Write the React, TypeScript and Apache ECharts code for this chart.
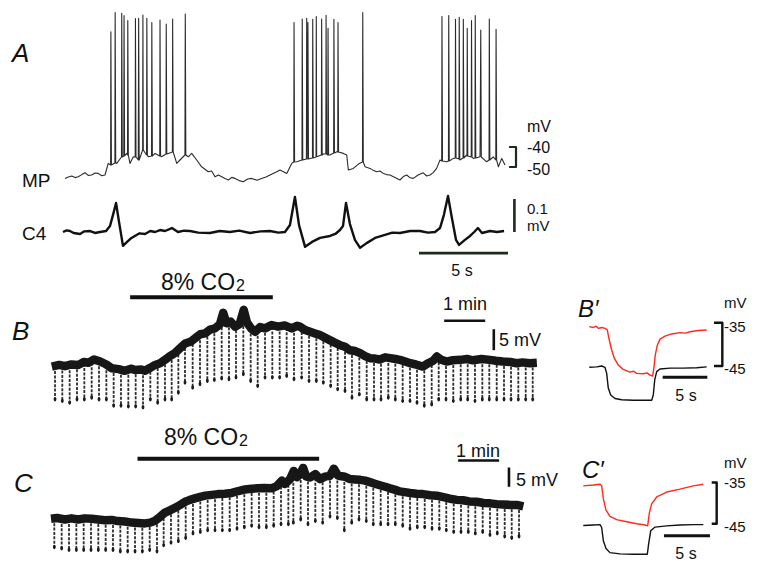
import React, { useEffect, useRef } from 'react';
import * as echarts from 'echarts';

const FONT = "'Liberation Sans', Arial, Helvetica, sans-serif";

// ---------- Panel A (time in s) ----------
// membrane potential (mV) between spikes
const mpTrace: number[][] = [
  [0.11, -55.7], [0.3, -55.0], [0.49, -54.5], [0.68, -55.3], [0.86, -54.9], [1.05, -53.8], [1.24, -52.9], [1.42, -54.2],
  [1.61, -54.0], [1.8, -53.0], [1.98, -53.2], [2.17, -54.4], [2.36, -54.0], [2.54, -48.2], [2.74, -49.0], [3.02, -48.2],
  [3.3, -44.9], [3.58, -43.2], [3.76, -48.2], [3.95, -44.9], [4.23, -46.5], [4.51, -41.5], [4.79, -44.9], [5.17, -43.2],
  [5.54, -44.9], [5.92, -43.2], [6.2, -42.4], [6.39, -48.2], [6.57, -46.5], [6.85, -44.0], [7.04, -44.9], [7.23, -43.2],
  [7.51, -46.5], [7.79, -49.9], [8.16, -52.4], [8.35, -52.0], [8.54, -54.9], [8.73, -54.0], [8.92, -54.9], [9.1, -55.8],
  [9.29, -56.5], [9.48, -55.2], [9.66, -55.7], [9.9, -56.8], [10.13, -57.4], [10.37, -56.0], [10.6, -55.7], [10.9, -56.6],
  [11.16, -55.7], [11.4, -55.0], [11.63, -54.0], [12.01, -52.4], [12.19, -51.5], [12.57, -53.2], [12.85, -48.2],
  [13.13, -47.4], [13.5, -46.5], [13.88, -45.7], [14.25, -44.9], [14.62, -43.5], [15.0, -44.0], [15.38, -42.4],
  [15.75, -43.2], [15.94, -44.0], [16.03, -51.5], [16.31, -50.7], [16.65, -48.2], [16.97, -49.9], [17.25, -50.7],
  [17.45, -51.8], [17.62, -52.4], [17.8, -52.0], [17.99, -53.2], [18.18, -53.8], [18.37, -54.0], [18.65, -55.2],
  [18.93, -56.5], [19.12, -54.8], [19.31, -54.0], [19.5, -55.4], [19.68, -55.7], [19.95, -54.0], [20.24, -52.9],
  [20.43, -54.5], [20.62, -54.0], [20.8, -52.8], [20.99, -50.7], [21.18, -46.5], [21.56, -47.4], [21.93, -45.7],
  [22.3, -46.5], [22.68, -44.0], [23.05, -45.7], [23.43, -44.9], [23.8, -47.4], [24.17, -44.9], [24.46, -49.9],
  [24.65, -45.7], [24.83, -49.0]
];
// action potentials: [time, take-off mV, peak mV]
const mpSpikes: number[][] = [
  [2.69, -49, 17.6], [2.93, -48, 27.2], [3.3, -45, 26.9], [3.43, -44.5, 25.7], [3.64, -44, 23.2], [4.07, -45, 24.2],
  [4.25, -46.5, 24.4], [4.49, -41.5, 26.0], [4.71, -44, 24.4], [4.99, -44.5, 22.2], [5.45, -44.5, 23.5],
  [5.8, -43.5, 21.5], [6.16, -42.5, 24.0], [6.87, -44, 26.5],
  [12.98, -47.5, 22.2], [13.44, -46.5, 24.0], [13.69, -46, 24.4], [13.76, -46, 22.2], [14.03, -45.5, 23.9],
  [14.23, -45, 25.2], [14.53, -44, 24.0], [14.78, -43.5, 25.9], [14.89, -44, 19.4], [15.22, -43, 23.9],
  [15.45, -42.5, 22.2],
  [16.84, -47.5, 27.2],
  [21.29, -47, 25.2], [21.67, -47, 25.7], [22.05, -45.5, 23.9], [22.26, -46, 24.9], [22.49, -45.5, 23.9],
  [22.71, -44.5, 19.4], [22.95, -45, 23.2], [23.16, -45.5, 25.7], [23.47, -45, 18.5], [23.95, -46.5, 24.0],
  [24.33, -46.5, 18.9]
];
// C4 nerve activity (µV)
const c4Trace: number[][] = [
  [0, 0], [0.2, 5], [0.39, 3], [0.6, -3], [0.96, -6], [1.2, 2], [1.52, 3], [1.8, -3], [2.08, 0], [2.42, 3], [2.64, 18],
  [2.81, 52], [2.98, 88], [3.15, 30], [3.37, -42], [3.6, -30], [3.8, -20], [4.04, -12], [4.3, -4], [4.61, -6],
  [4.9, 3], [5.17, 0], [5.45, 6], [5.73, 3], [6.12, 12], [6.46, 0], [6.8, 4], [7.13, 3], [7.6, -2], [8.26, -3],
  [8.8, 3], [9.38, 0], [9.9, 4], [10.51, -3], [11.1, 2], [11.63, 3], [12.1, -2], [12.47, 0], [12.75, 21],
  [13.03, 106], [13.26, 21], [13.6, -45], [13.99, -30], [14.44, -18], [15.0, -12], [15.3, -6], [15.56, 6],
  [15.73, 18], [15.9, 88], [16.12, 24], [16.4, -24], [16.69, -48], [17.08, -33], [17.53, -18], [18.09, -9],
  [18.5, -2], [18.93, -3], [19.5, 3], [20.06, 3], [20.5, -2], [20.9, 0], [21.18, 12], [21.4, 52], [21.63, 109],
  [21.85, 42], [22.08, -24], [22.25, -39], [22.58, -24], [22.87, -12], [23.1, 0], [23.31, 12], [23.54, -3],
  [23.99, 3], [24.38, 0], [24.78, 3]
];

// ---------- Panels B and C (time in min, ΔmV from baseline) ----------
const bBand: number[][] = [
  [0.02, 0.1], [0.2, 0.5], [0.34, 0.2], [0.5, 0.6], [0.67, 0.5], [0.8, 1.2], [0.91, 1.0], [1.05, 1.8], [1.2, 1.3],
  [1.35, 0.6], [1.48, -0.3], [1.65, -0.5], [1.8, -0.9], [1.95, -0.4], [2.05, -0.7], [2.2, -0.6], [2.29, -0.9],
  [2.42, -0.2], [2.54, 0.5], [2.66, 0.9], [2.78, 1.7], [2.9, 2.6], [3.02, 3.3], [3.15, 4.5], [3.27, 5.6], [3.4, 6.0],
  [3.51, 6.8], [3.64, 7.8], [3.76, 8.0], [3.88, 8.9], [4.0, 9.2], [4.12, 10.2], [4.2, 12.9], [4.28, 10.4],
  [4.38, 10.8], [4.49, 9.6], [4.6, 10.2], [4.7, 13.6], [4.78, 10.6], [4.88, 9.2], [4.98, 8.4], [5.1, 9.5],
  [5.22, 9.2], [5.38, 10.0], [5.54, 9.6], [5.7, 9.9], [5.87, 9.2], [6.0, 9.8], [6.07, 9.6], [6.2, 8.8], [6.32, 8.4],
  [6.44, 8.0], [6.56, 7.6], [6.68, 7.0], [6.8, 6.4], [6.92, 5.8], [7.05, 5.2], [7.17, 4.8], [7.29, 4.0], [7.42, 3.8],
  [7.54, 3.3], [7.66, 2.6], [7.78, 2.1], [7.9, 2.0], [8.02, 1.8], [8.15, 2.3], [8.27, 2.1], [8.4, 1.9], [8.51, 1.7],
  [8.64, 1.3], [8.76, 0.9], [8.9, 0.6], [9.07, 0.1], [9.2, 0.9], [9.32, 1.5], [9.41, 2.5], [9.5, 1.8], [9.65, 1.3],
  [9.8, 1.6], [9.98, 1.7], [10.15, 1.9], [10.29, 1.6], [10.5, 1.9], [10.71, 1.7], [10.85, 1.5], [11.02, 1.3],
  [11.2, 1.2], [11.36, 0.9], [11.5, 1.1], [11.68, 0.9], [11.85, 1.0]
];
// hyperpolarising current steps: [time, start mV, end mV]
const bSteps: number[][] = [
  [0.098, 0.1, -7.9], [0.276, 0.2, -8.3], [0.455, 0.3, -8.7], [0.634, 0.5, -7.9], [0.813, 0.8, -7.9], [0.992, 1.0, -7.5],
  [1.171, 1.2, -7.9], [1.35, 0.3, -7.9], [1.528, -0.4, -9.4], [1.707, -0.8, -9.4], [1.886, -0.8, -9.6], [2.065, -0.7, -9.6],
  [2.244, -0.9, -9.8], [2.423, -0.1, -7.9], [2.602, 0.8, -8.7], [2.78, 1.7, -7.9], [2.943, 2.7, -7.9], [3.106, 4.0, -6.3],
  [3.268, 5.6, -3.9], [3.455, 6.5, -5.1], [3.634, 7.4, -4.3], [3.813, 8.3, -3.5], [3.984, 9.1, -3.3], [4.163, 10.5, -2.9],
  [4.341, 10.5, -3.1], [4.512, 9.8, -2.7], [4.691, 10.8, -1.9], [4.87, 9.0, -3.5], [5.041, 8.5, -4.7], [5.22, 9.2, -2.7],
  [5.398, 9.5, -2.7], [5.577, 9.5, -2.7], [5.748, 9.3, -2.3], [5.927, 9.2, -3.1], [6.114, 9.4, -2.7], [6.293, 8.5, -3.5],
  [6.472, 7.9, -3.5], [6.642, 7.2, -3.9], [6.821, 6.4, -4.7], [6.992, 5.6, -5.5], [7.171, 4.7, -5.9], [7.341, 3.9, -7.5],
  [7.52, 3.3, -6.7], [7.7, 2.5, -7.9], [7.878, 2.0, -7.9], [8.049, 1.8, -7.9], [8.227, 2.0, -7.5], [8.398, 1.8, -7.9],
  [8.577, 1.5, -8.3], [8.756, 0.9, -8.3], [8.927, 0.4, -8.7], [9.105, 0.2, -9.4], [9.285, 1.5, -9.1], [9.456, 2.2, -7.9],
  [9.634, 1.3, -7.9], [9.812, 1.5, -8.3], [9.993, 1.7, -7.9], [10.163, 1.7, -7.9], [10.341, 1.7, -8.3], [10.52, 1.7, -7.9],
  [10.69, 1.7, -7.9], [10.871, 1.6, -7.9], [11.049, 1.3, -7.9], [11.22, 1.1, -7.9], [11.398, 0.9, -7.9], [11.578, 0.9, -7.9],
  [11.749, 0.9, -7.9]
];
const cBand: number[][] = [
  [0, 0], [0.15, 0.2], [0.34, -0.2], [0.5, 0.1], [0.66, -0.2], [0.82, 0.1], [0.99, 0], [1.15, -0.2], [1.32, -0.4],
  [1.48, -0.3], [1.63, -0.6], [1.8, -0.7], [1.97, -1.0], [2.13, -1.1], [2.29, -1.2], [2.42, -1.0], [2.54, -0.5],
  [2.66, 0.5], [2.78, 1.6], [2.9, 2.2], [3.02, 2.8], [3.15, 3.6], [3.27, 4.4], [3.39, 4.9], [3.51, 5.3], [3.64, 5.7],
  [3.76, 6.0], [3.92, 6.2], [4.07, 6.4], [4.24, 6.5], [4.41, 6.7], [4.57, 7.2], [4.73, 7.6], [4.89, 7.8], [5.05, 7.9],
  [5.2, 8.0], [5.38, 7.9], [5.5, 8.4], [5.63, 9.9], [5.7, 9.0], [5.83, 10.3], [5.92, 12.4], [6.0, 10.8], [6.07, 11.5],
  [6.15, 13.2], [6.22, 11.0], [6.32, 10.7], [6.45, 11.6], [6.56, 10.3], [6.7, 11.0], [6.8, 11.1], [6.9, 13.0],
  [7.0, 11.2], [7.05, 11.1], [7.17, 10.9], [7.29, 10.3], [7.42, 10.2], [7.54, 10.1], [7.66, 9.9], [7.78, 9.5],
  [7.9, 9.1], [8.02, 8.7], [8.15, 8.3], [8.27, 7.9], [8.4, 7.5], [8.51, 7.1], [8.63, 6.9], [8.76, 6.7], [8.92, 6.5],
  [9.07, 6.4], [9.25, 6.1], [9.41, 6.0], [9.57, 5.6], [9.73, 5.2], [9.9, 4.9], [10.05, 4.8], [10.2, 4.5], [10.38, 4.4],
  [10.55, 4.1], [10.71, 4.0], [10.87, 3.8], [11.02, 3.7], [11.2, 3.6], [11.36, 3.6], [11.52, 3.2]
];
const cSteps: number[][] = [
  [0.081, 0, -7.6], [0.26, -0.2, -7.9], [0.439, -0.2, -8.3], [0.618, -0.2, -8.3], [0.797, -0.1, -8.3], [0.976, 0, -8.3],
  [1.154, -0.2, -8.3], [1.333, -0.4, -8.3], [1.512, -0.5, -8.3], [1.691, -0.6, -8.7], [1.87, -0.9, -8.7], [2.049, -1.1, -8.7],
  [2.228, -1.2, -8.7], [2.407, -1.0, -8.3], [2.585, -0.3, -8.7], [2.748, 1.3, -7.1], [2.927, 2.3, -6.4], [3.106, 3.3, -6.0],
  [3.285, 4.3, -5.2], [3.463, 5.0, -4.0], [3.642, 5.6, -3.6], [3.821, 6.0, -3.2], [4.0, 6.2, -3.2], [4.179, 6.5, -3.2],
  [4.358, 6.7, -3.2], [4.537, 7.1, -2.8], [4.715, 7.5, -2.4], [4.894, 7.8, -2.0], [5.073, 7.9, -2.4], [5.252, 7.9, -2.4],
  [5.431, 8.2, -2.0], [5.61, 9.5, -1.6], [5.789, 10.0, -1.6], [5.911, 10.5, -1.2], [6.09, 11.2, -0.4], [6.268, 10.8, -1.6],
  [6.447, 10.5, -0.8], [6.626, 10.6, -1.2], [6.805, 11.1, 0.4], [6.984, 11.1, 0], [7.154, 10.7, -3.2], [7.334, 10.3, -1.2],
  [7.512, 10.1, -0.4], [7.69, 9.7, -0.8], [7.861, 9.2, -1.6], [8.041, 8.7, -1.6], [8.22, 8.1, -1.6], [8.398, 7.5, -1.6],
  [8.578, 7.0, -2.0], [8.756, 6.7, -2.8], [8.934, 6.5, -2.4], [9.115, 6.3, -2.4], [9.293, 6.1, -2.8], [9.471, 5.9, -2.8],
  [9.641, 5.5, -3.2], [9.822, 5.1, -3.6], [10.0, 4.8, -3.6], [10.178, 4.6, -3.6], [10.349, 4.4, -4.0], [10.529, 4.2, -3.6],
  [10.707, 4.0, -4.4], [10.885, 3.8, -4.0], [11.066, 3.7, -4.8], [11.237, 3.6, -5.2], [11.415, 3.4, -4.8]
];
// CO2 application periods (min)
const co2B = [1.93, 5.41];
const co2C = [2.11, 6.54];

// ---------- Panels B' and C' (time in s, mV) ----------
const bPrimeCO2: number[][] = [
  [0.03, -35.9], [0.48, -36.1], [0.8, -35.8], [1.04, -36.3], [1.42, -36.1], [1.79, -36.3], [2.05, -36.7], [2.27, -39.0],
  [2.54, -41.3], [2.83, -43.2], [3.28, -44.8], [3.84, -45.8], [4.59, -46.4], [5.0, -46.2], [5.34, -46.7], [6.08, -46.8],
  [6.5, -46.6], [6.83, -47.1], [7.13, -47.3], [7.28, -45.2], [7.42, -42.5], [7.65, -40.2], [7.95, -38.8], [8.51, -38.1],
  [9.26, -37.6], [10.19, -37.3], [10.8, -37.4], [11.31, -37.1], [12.24, -36.8], [13.18, -36.7]
];
const bPrimeCtrl: number[][] = [
  [0.03, -45.3], [0.86, -45.2], [1.42, -45.0], [1.79, -45.3], [1.98, -46.7], [2.16, -50.1], [2.43, -51.7], [2.91, -52.5],
  [3.66, -52.8], [4.96, -52.9], [6.08, -52.9], [7.02, -52.9], [7.2, -51.7], [7.36, -48.2], [7.58, -46.3], [7.95, -45.7],
  [9.07, -45.5], [10.56, -45.5], [12.06, -45.4], [13.18, -45.2]
];
const cPrimeCO2: number[][] = [
  [0.03, -35.8], [1.12, -35.6], [1.85, -35.4], [2.03, -35.8], [2.21, -38.9], [2.5, -41.7], [2.93, -43.2], [3.66, -44.0],
  [4.75, -44.5], [5.84, -45.0], [6.74, -45.3], [7.03, -45.5], [7.21, -42.4], [7.47, -40.1], [8.01, -38.5], [9.1, -37.3],
  [10.54, -36.6], [11.99, -35.8], [13.08, -35.4]
];
const cPrimeCtrl: number[][] = [
  [0.03, -45.4], [1.12, -45.3], [1.85, -45.2], [2.03, -45.9], [2.21, -49.1], [2.5, -51.0], [2.93, -52.0], [4.02, -52.3],
  [5.47, -52.4], [6.99, -52.4], [7.14, -49.8], [7.36, -46.7], [7.83, -45.8], [9.1, -45.5], [10.54, -45.3], [11.99, -45.2],
  [13.08, -45.2]
];

// scale-bar values and labels
const mpScaleTicks = ['-40', '-50'];
const mpScaleValues = [-40, -50];
const c4ScaleValues = [0, 100];
const primeScaleTicks = ['-35', '-45'];
const primeScaleValues = [-35, -45];

function buildMp(): number[][] {
  const pts: number[][] = mpTrace.map((p) => [p[0], p[1]]);
  mpSpikes.forEach((s) => {
    pts.push([s[0] - 0.015, s[1]], [s[0], s[2]], [s[0] + 0.03, s[1]]);
  });
  pts.sort((a, b) => a[0] - b[0]);
  return pts;
}

const lineS = (gi: number, data: number[][], color: string, width: number, z = 3) => ({
  type: 'line',
  xAxisIndex: gi,
  yAxisIndex: gi,
  data,
  symbol: 'none',
  silent: true,
  clip: false,
  z,
  lineStyle: { color, width, join: 'round', cap: 'butt' },
});

const stepSeries = (gi: number, data: number[][]) => ({
  type: 'custom',
  xAxisIndex: gi,
  yAxisIndex: gi,
  data,
  silent: true,
  clip: false,
  z: 2,
  encode: { x: 0, y: [1, 2] },
  renderItem: (_p: any, api: any) => {
    const top = api.coord([api.value(0), api.value(1)]);
    const bot = api.coord([api.value(0), api.value(2)]);
    return {
      type: 'group',
      children: [
        {
          type: 'line',
          shape: { x1: top[0], y1: top[1], x2: bot[0], y2: bot[1] },
          style: { stroke: '#2e2e2e', lineWidth: 1.8, lineDash: [3, 1.4] },
        },
        { type: 'ellipse', shape: { cx: bot[0], cy: bot[1] - 1, rx: 1.4, ry: 2.2 }, style: { fill: '#1c1c1c' } },
      ],
    };
  },
});

const txt = (x: number, y: number, text: string, size: number, align = 'left', italic = false) => ({
  type: 'text',
  x,
  y,
  silent: true,
  style: {
    text,
    fontSize: size,
    fontFamily: FONT,
    fontStyle: italic ? 'italic' : 'normal',
    fill: '#111',
    align,
    verticalAlign: 'middle',
    textAlign: align,
    textVerticalAlign: 'middle',
  },
});

const co2Text = (x: number, y: number) => ({
  type: 'text',
  x,
  y,
  silent: true,
  style: {
    text: '{a|8% CO}{b|2}',
    align: 'center',
    verticalAlign: 'middle',
    textAlign: 'center',
    textVerticalAlign: 'middle',
    rich: {
      a: { fontSize: 23, fontFamily: FONT, fill: '#111' },
      b: { fontSize: 16, fontFamily: FONT, fill: '#111', verticalAlign: 'bottom', padding: [0, 0, 0, 1] },
    },
  },
});

export default function App() {
  const ref = useRef<HTMLDivElement>(null);
  useEffect(() => {
    if (!ref.current) return;
    const chart = echarts.init(ref.current, undefined, { renderer: 'svg' });
    const grids = [
      { left: 63, top: 7, width: 462.8, height: 180 },
      { left: 63, top: 192.4, width: 462.8, height: 66 },
      { left: 51, top: 291.4, width: 492, height: 126 },
      { left: 51, top: 449.4, width: 492, height: 126 },
      { left: 589, top: 301.05, width: 133.95, height: 108.25 },
      { left: 583, top: 461.95, width: 138, height: 106.75 },
    ];
    const xr = [[0, 26], [0, 26], [0, 12], [0, 12], [0, 15], [0, 15]];
    const yr = [[-60, 30], [-80, 120], [-12, 18], [-12, 18], [-55, -30], [-55, -30]];
    const xAxis = xr.map((r, i) => ({ type: 'value', gridIndex: i, min: r[0], max: r[1], show: false }));
    const yAxis = yr.map((r, i) => ({ type: 'value', gridIndex: i, min: r[0], max: r[1], show: false }));

    const bar = (gi: number, data: number[][], w: number, color = '#111') => lineS(gi, data, color, w, 4);

    const series: any[] = [
      lineS(0, buildMp(), '#2b2b2b', 1.1),
      lineS(1, c4Trace, '#111', 2.4),
      stepSeries(2, bSteps),
      lineS(2, bBand, '#171717', 8.5),
      stepSeries(3, cSteps),
      lineS(3, cBand, '#171717', 8.5),
      lineS(4, bPrimeCO2, '#ff2a1a', 1.4),
      lineS(4, bPrimeCtrl, '#111', 1.4),
      lineS(5, cPrimeCO2, '#ff2a1a', 1.4),
      lineS(5, cPrimeCtrl, '#111', 1.4),
      // A scale bars
      bar(0, [[25.06, mpScaleValues[0]], [25.45, mpScaleValues[0]], [25.45, mpScaleValues[1]], [25.06, mpScaleValues[1]]], 2.2, '#1d2a1d'),
      bar(1, [[25.36, c4ScaleValues[0]], [25.36, c4ScaleValues[1]]], 2.6, '#1d2a1d'),
      bar(1, [[20, -64], [25, -64]], 2.8, '#1d2a1d'),
      // B bars
      bar(2, [[co2B[0], 16.6], [co2B[1], 16.6]], 4),
      bar(2, [[9.59, 11.0], [10.59, 11.0]], 2.4),
      bar(2, [[10.8, 4], [10.8, 9]], 2.6),
      // C bars
      bar(3, [[co2C[0], 15.6], [co2C[1], 15.6]], 4),
      bar(3, [[9.93, 15.1], [10.93, 15.1]], 2.4),
      bar(3, [[11.17, 8.3], [11.17, 13.3]], 2.6),
      // B' bars
      bar(4, [[14.0, primeScaleValues[0]], [14.93, primeScaleValues[0]], [14.93, primeScaleValues[1]], [14.0, primeScaleValues[1]]], 2.4),
      bar(4, [[8.25, -47.6], [13.25, -47.6]], 3),
      // C' bars
      bar(5, [[13.99, primeScaleValues[0]], [14.53, primeScaleValues[0]], [14.53, primeScaleValues[1]], [13.99, primeScaleValues[1]]], 2.4),
      bar(5, [[8.8, -47.9], [13.8, -47.9]], 3),
    ];

    const graphic: any[] = [
      txt(12, 53, 'A', 26, 'left', true),
      txt(22, 180, 'MP', 19),
      txt(22, 233, 'C4', 19),
      txt(527, 126, 'mV', 16),
      txt(527, 147.5, mpScaleTicks[0], 16),
      txt(527, 169, mpScaleTicks[1], 16),
      txt(527, 208.5, '0.1', 15),
      txt(527, 225, 'mV', 15),
      txt(462, 270, '5 s', 16, 'center'),
      txt(12, 331, 'B', 26, 'left', true),
      co2Text(203, 282),
      txt(465, 304, '1 min', 18, 'center'),
      txt(499, 340, '5 mV', 18),
      txt(14, 483, 'C', 26, 'left', true),
      co2Text(206, 437),
      txt(478, 451, '1 min', 18, 'center'),
      txt(516, 480, '5 mV', 18),
      txt(578, 308, 'B\u2032', 24, 'left', true),
      txt(724, 302, 'mV', 15),
      txt(724, 326, primeScaleTicks[0], 15),
      txt(724, 368, primeScaleTicks[1], 15),
      txt(686, 395, '5 s', 16, 'center'),
      txt(582, 469, 'C\u2032', 24, 'left', true),
      txt(724, 462, 'mV', 15),
      txt(724, 482, primeScaleTicks[0], 15),
      txt(724, 526, primeScaleTicks[1], 15),
      txt(686, 553, '5 s', 16, 'center'),
    ];

    chart.setOption({
      animation: false,
      backgroundColor: '#fff',
      grid: grids,
      xAxis,
      yAxis,
      series,
      graphic,
    });
    return () => chart.dispose();
  }, []);
  return <div ref={ref} style={{ position: 'fixed', left: 0, top: 0, width: 763, height: 565 }} />;
}
